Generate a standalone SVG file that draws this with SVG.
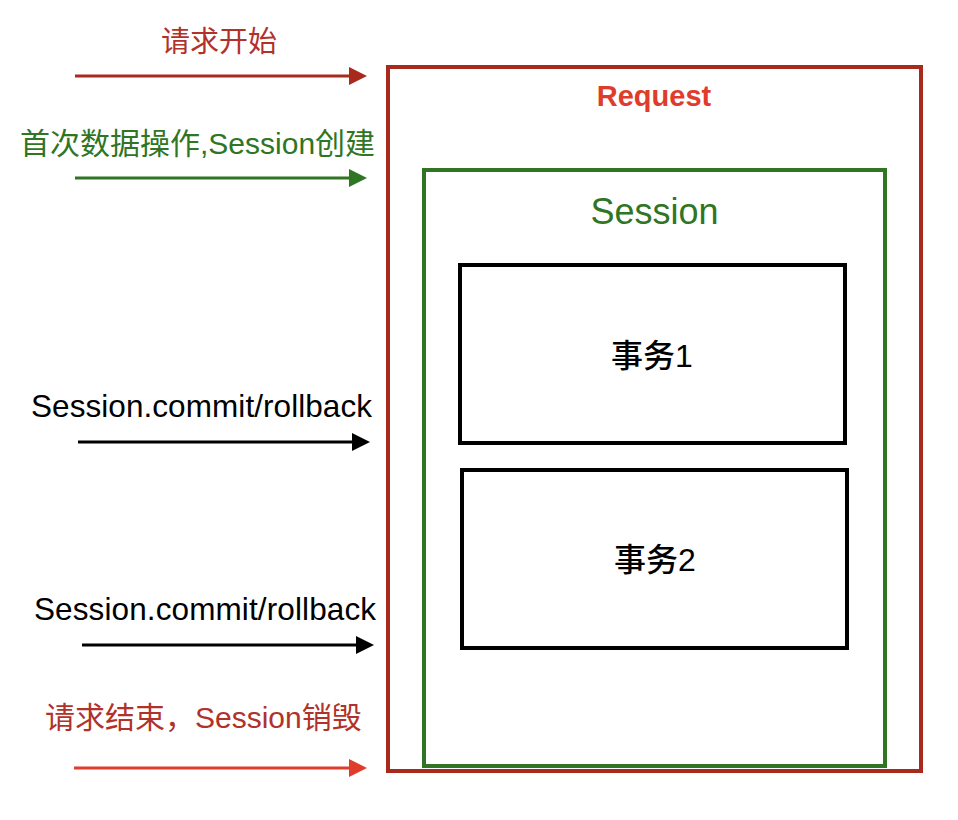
<svg xmlns="http://www.w3.org/2000/svg" width="958" height="820" viewBox="0 0 958 820">
  <style>
    .t { font-family: "Liberation Sans", "Noto Sans CJK SC", sans-serif; }
    .box { fill: none; stroke-width: 4; }
    .conn { fill: none; stroke-width: 3; }
  </style>
  <defs>
    <marker id="mDarkRed" markerUnits="userSpaceOnUse" markerWidth="18" markerHeight="18" refX="8" refY="9" orient="auto">
      <path d="M0,0 L18,9 L0,18 z" fill="#A82A1C"/>
    </marker>
    <marker id="mGreen" markerUnits="userSpaceOnUse" markerWidth="18" markerHeight="18" refX="8" refY="9" orient="auto">
      <path d="M0,0 L18,9 L0,18 z" fill="#2F7523"/>
    </marker>
    <marker id="mBlack" markerUnits="userSpaceOnUse" markerWidth="18" markerHeight="18" refX="8" refY="9" orient="auto">
      <path d="M0,0 L18,9 L0,18 z" fill="#000000"/>
    </marker>
    <marker id="mRed" markerUnits="userSpaceOnUse" markerWidth="18" markerHeight="18" refX="8" refY="9" orient="auto">
      <path d="M0,0 L18,9 L0,18 z" fill="#E03C2C"/>
    </marker>
  </defs>
  <rect width="958" height="820" fill="#FFFFFF"/>

  <g id="request">
    <rect class="box" x="388" y="67" width="533" height="704" stroke="#A82A1C"/>
    <text class="t" x="654" y="106" font-size="29" font-weight="bold" fill="#E03C2C" text-anchor="middle">Request</text>
  </g>
  <g id="session">
    <rect class="box" x="424" y="170" width="461" height="596" stroke="#2F7523"/>
    <text class="t" x="654.5" y="224" font-size="36" fill="#2F7523" text-anchor="middle">Session</text>
  </g>
  <g id="tx1">
    <rect class="box" x="460" y="265" width="385" height="178" stroke="#000000"/>
    <text class="t" x="652" y="367" font-size="32" font-weight="500" fill="#000000" text-anchor="middle">事务1</text>
  </g>
  <g id="tx2">
    <rect class="box" x="462" y="470" width="385" height="178" stroke="#000000"/>
    <text class="t" x="655" y="571" font-size="32" font-weight="500" fill="#000000" text-anchor="middle">事务2</text>
  </g>

  <g id="connectors">
    <line class="conn" x1="75" y1="76" x2="357" y2="76" stroke="#A82A1C" marker-end="url(#mDarkRed)"/>
    <line class="conn" x1="75" y1="178" x2="357" y2="178" stroke="#2F7523" marker-end="url(#mGreen)"/>
    <line class="conn" x1="78" y1="442" x2="360" y2="442" stroke="#000000" marker-end="url(#mBlack)"/>
    <line class="conn" x1="82" y1="645" x2="364" y2="645" stroke="#000000" marker-end="url(#mBlack)"/>
    <line class="conn" x1="74" y1="768" x2="357" y2="768" stroke="#E03C2C" marker-end="url(#mRed)"/>
  </g>

  <g id="labels">
    <text class="t" x="161" y="52" font-size="29" fill="#B0322A">请求开始</text>
    <text class="t" x="20" y="154" font-size="30" fill="#2F7523">首次数据操作,Session创建</text>
    <text class="t" x="31" y="417" font-size="31.5" fill="#000000" textLength="341" lengthAdjust="spacing">Session.commit/rollback</text>
    <text class="t" x="34" y="620" font-size="31.5" fill="#000000" textLength="342" lengthAdjust="spacing">Session.commit/rollback</text>
    <text class="t" x="45" y="728" font-size="30" fill="#B0322A">请求结束，Session销毁</text>
  </g>
</svg>
